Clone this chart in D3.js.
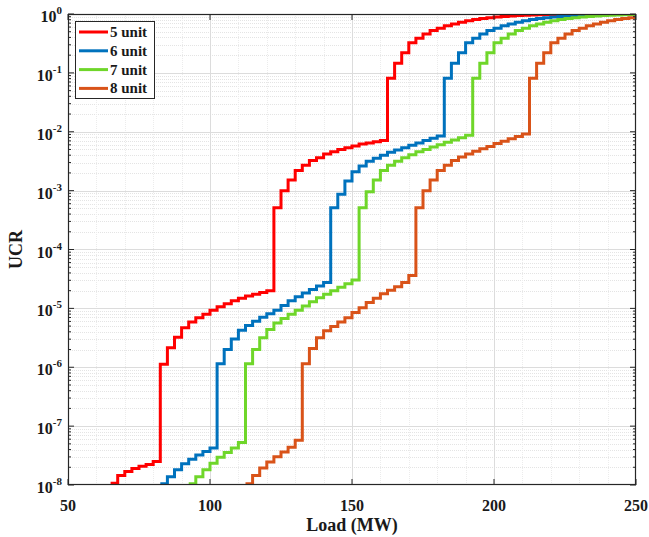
<!DOCTYPE html>
<html>
<head>
<meta charset="utf-8">
<script src="https://cdn.jsdelivr.net/npm/d3@7"></script>
<style>
  html, body { margin: 0; padding: 0; background: #ffffff; }
  svg { display: block; }
  text { font-family: "Liberation Serif", "Times New Roman", serif; font-weight: bold; fill: #1a1a1a; }
</style>
</head>
<body>
<svg id="chart" width="649" height="537"></svg>
<script>
// Unit commitment risk (UCR) versus system load, one staircase per committed-unit count.
const seriesNames = ["5 unit", "6 unit", "7 unit", "8 unit"];
const seriesColors = ["#ff0000", "#0072bd", "#6fd62a", "#d95319"];
const loadStep = 2.5;                       // MW between load levels
const startLoads = [65, 82.5, 92.5, 112.5];  // first load level of each curve (MW)

const ucr5 = [
  1.07e-8, 1.45e-8, 1.70e-8, 1.91e-8, 2.09e-8, 2.24e-8, 2.51e-8,
  1.12e-6, 2.14e-6, 3.24e-6, 4.68e-6, 5.89e-6, 6.92e-6, 7.94e-6, 9.33e-6,
  1.07e-5, 1.20e-5, 1.35e-5, 1.48e-5, 1.62e-5, 1.74e-5, 1.86e-5, 2.00e-5,
  5.13e-4, 1.00e-3, 1.51e-3, 2.19e-3, 2.69e-3, 3.24e-3, 3.63e-3, 4.17e-3,
  4.57e-3, 5.01e-3, 5.37e-3, 5.75e-3, 6.17e-3, 6.46e-3, 6.76e-3, 7.08e-3,
  0.0813, 0.145, 0.219, 0.324, 0.389, 0.457, 0.525, 0.575, 0.631, 0.676,
  0.724, 0.767, 0.804, 0.836, 0.863, 0.887, 0.908, 0.925, 0.940, 0.953,
  0.964, 0.973, 0.979, 0.984, 0.989, 0.991, 0.993, 0.995, 0.9966, 0.9977,
  0.9984, 0.9988, 0.9993, 0.9995, 0.9998, 0.9998
];
const ucr6 = [
  1.05e-8, 1.38e-8, 1.82e-8, 2.29e-8, 2.75e-8, 3.24e-8, 3.72e-8, 4.27e-8,
  1.15e-6, 2.00e-6, 3.02e-6, 4.27e-6, 5.13e-6, 6.03e-6, 7.08e-6, 8.13e-6,
  9.33e-6, 1.12e-5, 1.35e-5, 1.58e-5, 1.82e-5, 2.09e-5, 2.40e-5, 2.75e-5,
  5.13e-4, 8.71e-4, 1.45e-3, 2.09e-3, 2.63e-3, 3.16e-3, 3.55e-3, 3.98e-3,
  4.47e-3, 4.90e-3, 5.37e-3, 5.89e-3, 6.46e-3, 7.08e-3, 7.76e-3, 8.51e-3,
  0.0813, 0.145, 0.219, 0.324, 0.389, 0.457, 0.525, 0.575, 0.631, 0.676,
  0.724, 0.767, 0.804, 0.836, 0.863, 0.887, 0.908, 0.925, 0.940, 0.953,
  0.964, 0.973, 0.979, 0.984, 0.989, 0.991, 0.993, 0.995
];
const ucr7 = [
  1.05e-8, 1.38e-8, 1.82e-8, 2.34e-8, 2.95e-8, 3.55e-8, 4.27e-8, 5.25e-8,
  1.15e-6, 2.00e-6, 3.16e-6, 4.37e-6, 5.62e-6, 6.76e-6, 7.94e-6, 9.33e-6,
  1.10e-5, 1.29e-5, 1.51e-5, 1.74e-5, 2.00e-5, 2.29e-5, 2.63e-5, 3.02e-5,
  5.13e-4, 9.55e-4, 1.51e-3, 2.19e-3, 2.69e-3, 3.16e-3, 3.63e-3, 4.07e-3,
  4.57e-3, 5.01e-3, 5.50e-3, 6.03e-3, 6.61e-3, 7.24e-3, 7.94e-3, 8.71e-3,
  0.0813, 0.145, 0.219, 0.324, 0.389, 0.457, 0.525, 0.575, 0.631, 0.676,
  0.724, 0.767, 0.804, 0.836, 0.863, 0.887, 0.908, 0.925, 0.940, 0.953,
  0.964, 0.973, 0.979, 0.984
];
const ucr8 = [
  1.05e-8, 1.45e-8, 1.95e-8, 2.45e-8, 3.02e-8, 3.63e-8, 4.37e-8, 5.75e-8,
  1.15e-6, 2.09e-6, 3.16e-6, 4.17e-6, 4.90e-6, 5.89e-6, 6.92e-6, 8.51e-6,
  1.02e-5, 1.26e-5, 1.48e-5, 1.78e-5, 2.04e-5, 2.34e-5, 2.75e-5, 3.60e-5,
  5.13e-4, 1.00e-3, 1.51e-3, 2.19e-3, 2.69e-3, 3.24e-3, 3.72e-3, 4.17e-3,
  4.68e-3, 5.13e-3, 5.62e-3, 6.31e-3, 6.92e-3, 7.59e-3, 8.32e-3, 9.12e-3,
  0.0813, 0.145, 0.219, 0.324, 0.389, 0.457, 0.525, 0.575, 0.631, 0.676,
  0.724, 0.767, 0.804, 0.836, 0.863, 0.887
];
const ucrSeries = [ucr5, ucr6, ucr7, ucr8];

const xTicks = [50, 100, 150, 200, 250];
const xMinorTicks = [60, 70, 80, 90, 110, 120, 130, 140, 160, 170, 180, 190, 210, 220, 230, 240];
const yTickExponents = [-8, -7, -6, -5, -4, -3, -2, -1, 0];
const xLabel = "Load (MW)";
const yLabel = "UCR";

// ---- layout ----
const plot = { left: 68, top: 14, right: 636, bottom: 485 };
const svg = d3.select("#chart");

const x = d3.scaleLinear().domain([50, 250]).range([plot.left, plot.right]);
const y = d3.scaleLog().domain([1e-8, 1]).range([plot.bottom, plot.top]);

const yMinorValues = [];
yTickExponents.slice(0, -1).forEach(e => {
  for (let k = 2; k <= 9; k++) yMinorValues.push(k * Math.pow(10, e));
});

// ---- grid ----
const grid = svg.append("g").attr("class", "grid");
grid.selectAll("line.ymin").data(yMinorValues).join("line")
  .attr("x1", plot.left).attr("x2", plot.right)
  .attr("y1", d => Math.round(y(d)) + 0.5).attr("y2", d => Math.round(y(d)) + 0.5)
  .attr("stroke", "#e4e4e4").attr("stroke-width", 1).attr("stroke-dasharray", "1,1");
grid.selectAll("line.xmin").data(xMinorTicks).join("line")
  .attr("y1", plot.top).attr("y2", plot.bottom)
  .attr("x1", d => Math.round(x(d)) + 0.5).attr("x2", d => Math.round(x(d)) + 0.5)
  .attr("stroke", "#ececec").attr("stroke-width", 1).attr("stroke-dasharray", "1,1");
grid.selectAll("line.ymaj").data(yTickExponents.slice(1, -1)).join("line")
  .attr("x1", plot.left).attr("x2", plot.right)
  .attr("y1", d => Math.round(y(Math.pow(10, d))) + 0.5).attr("y2", d => Math.round(y(Math.pow(10, d))) + 0.5)
  .attr("stroke", "#dcdcdc").attr("stroke-width", 1);
grid.selectAll("line.xmaj").data(xTicks.slice(1, -1)).join("line")
  .attr("y1", plot.top).attr("y2", plot.bottom)
  .attr("x1", d => Math.round(x(d)) + 0.5).attr("x2", d => Math.round(x(d)) + 0.5)
  .attr("stroke", "#dcdcdc").attr("stroke-width", 1);

// ---- curves ----
svg.append("defs").append("clipPath").attr("id", "plotClip")
  .append("rect").attr("x", plot.left).attr("y", plot.top)
  .attr("width", plot.right - plot.left).attr("height", plot.bottom - plot.top);

const line = d3.line()
  .x(d => x(d.load))
  .y(d => y(d.ucr))
  .curve(d3.curveStepAfter);

const curves = svg.append("g").attr("clip-path", "url(#plotClip)");
ucrSeries.forEach((vals, i) => {
  const pts = vals.map((v, j) => ({ load: startLoads[i] + j * loadStep, ucr: v }));
  curves.append("path")
    .datum(pts)
    .attr("d", line)
    .attr("fill", "none")
    .attr("stroke", seriesColors[i])
    .attr("stroke-width", 3)
    .attr("stroke-linejoin", "miter");
});

// ---- axes frame and ticks ----
const axisColor = "#262626";
const axes = svg.append("g");
axes.append("rect")
  .attr("x", plot.left + 0.5).attr("y", plot.top + 0.5)
  .attr("width", plot.right - plot.left - 1).attr("height", plot.bottom - plot.top - 1)
  .attr("fill", "none").attr("stroke", axisColor).attr("stroke-width", 1.2);

const majorLen = 6, minorLen = 3;
// y ticks, both sides, pointing inward
[[plot.left, 1], [plot.right, -1]].forEach(([x0, dir]) => {
  axes.selectAll(null).data(yTickExponents).join("line")
    .attr("x1", x0).attr("x2", x0 + dir * majorLen)
    .attr("y1", d => y(Math.pow(10, d))).attr("y2", d => y(Math.pow(10, d)))
    .attr("stroke", axisColor).attr("stroke-width", 1);
  axes.selectAll(null).data(yMinorValues).join("line")
    .attr("x1", x0).attr("x2", x0 + dir * minorLen)
    .attr("y1", d => y(d)).attr("y2", d => y(d))
    .attr("stroke", axisColor).attr("stroke-width", 1);
});
// x ticks, bottom and top
[[plot.bottom, -1], [plot.top, 1]].forEach(([y0, dir]) => {
  axes.selectAll(null).data(xTicks).join("line")
    .attr("x1", d => x(d)).attr("x2", d => x(d))
    .attr("y1", y0).attr("y2", y0 + dir * majorLen)
    .attr("stroke", axisColor).attr("stroke-width", 1);
});

// x tick labels
svg.append("g").selectAll("text").data(xTicks).join("text")
  .attr("x", d => x(d)).attr("y", plot.bottom + 26)
  .attr("text-anchor", "middle")
  .attr("font-size", 16)
  .text(d => d);

// y tick labels as powers of ten
const yLabels = svg.append("g").selectAll("text").data(yTickExponents).join("text")
  .attr("x", plot.left - 6)
  .attr("y", d => y(Math.pow(10, d)) + 8)
  .attr("text-anchor", "end")
  .attr("font-size", 16);
yLabels.append("tspan").text("10");
yLabels.append("tspan").attr("font-size", 11).attr("dy", -8).text(d => d);

// axis titles
svg.append("text")
  .attr("x", (plot.left + plot.right) / 2).attr("y", plot.bottom + 46)
  .attr("text-anchor", "middle").attr("font-size", 18)
  .text(xLabel);
svg.append("text")
  .attr("transform", `translate(22,${(plot.top + plot.bottom) / 2}) rotate(-90)`)
  .attr("text-anchor", "middle").attr("font-size", 18)
  .text(yLabel);

// ---- legend ----
const legend = svg.append("g");
legend.append("rect")
  .attr("x", 75.5).attr("y", 21.5).attr("width", 79).attr("height", 77)
  .attr("fill", "#ffffff").attr("stroke", axisColor).attr("stroke-width", 1);
seriesNames.forEach((name, i) => {
  const ly = 32 + i * 18.8;
  legend.append("line")
    .attr("x1", 79).attr("x2", 108).attr("y1", ly).attr("y2", ly)
    .attr("stroke", seriesColors[i]).attr("stroke-width", 3);
  legend.append("text")
    .attr("x", 110).attr("y", ly + 5)
    .attr("font-size", 15)
    .text(name);
});
</script>
</body>
</html>
